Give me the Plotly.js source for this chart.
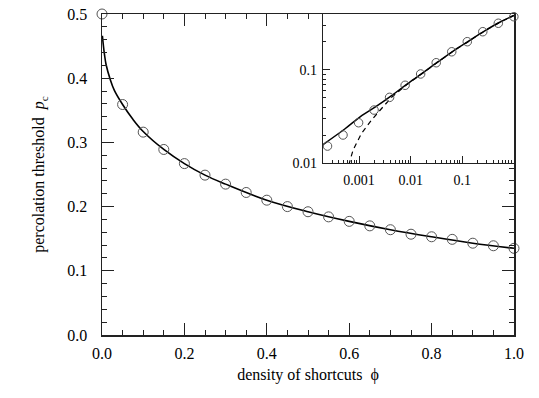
<!DOCTYPE html>
<html>
<head>
<meta charset="utf-8">
<script src="https://cdn.plot.ly/plotly-3.0.1.min.js"></script>
<style>html,body{margin:0;padding:0;background:#fff;}#chart{width:539px;height:398px;}</style>
</head>
<body>
<div id="chart"></div>
<script>
// Main panel: simulation points
const mainPhi = [0, 0.05, 0.1, 0.15, 0.2, 0.25, 0.3, 0.35, 0.4, 0.45, 0.5, 0.55, 0.6, 0.65, 0.7, 0.75, 0.8, 0.85, 0.9, 0.95, 1.0];
const mainPc  = [0.5, 0.359, 0.316, 0.289, 0.267, 0.249, 0.235, 0.222, 0.210, 0.200, 0.192, 0.184, 0.177, 0.170, 0.164, 0.157, 0.153, 0.149, 0.143, 0.139, 0.135];
// Main panel: solid curve
const curvePhi = [0.001, 0.003, 0.006, 0.01, 0.02, 0.03, 0.05, 0.075, 0.1, 0.15, 0.2, 0.25, 0.3, 0.4, 0.5, 0.6, 0.7, 0.8, 0.9, 1.0];
const curvePc  = [0.466, 0.453, 0.437, 0.421, 0.398, 0.381, 0.359, 0.336, 0.317, 0.289, 0.267, 0.249, 0.235, 0.210, 0.192, 0.177, 0.164, 0.153, 0.143, 0.135];
// Inset: points (log-log)
const insetPhi = [0.000244, 0.000488, 0.000977, 0.00195, 0.0039, 0.0078, 0.0156, 0.03125, 0.0625, 0.125, 0.25, 0.5, 1];
const insetVal = [0.0152, 0.0200, 0.0271, 0.0371, 0.0508, 0.0685, 0.0906, 0.1197, 0.157, 0.2015, 0.258, 0.318, 0.374];
// Inset: solid curve
const insetSolidPhi = [0.0002, 0.000527, 0.00106, 0.00211, 0.00426, 0.00834, 0.01687, 0.0335, 0.0668, 0.1346, 0.268, 0.532, 1.0];
const insetSolidVal = [0.0158, 0.0232, 0.0315, 0.0403, 0.0530, 0.0701, 0.0923, 0.122, 0.160, 0.205, 0.262, 0.326, 0.386];
// Inset: dashed curve
const insetDashPhi = [0.00063, 0.000764, 0.00111, 0.00174, 0.00293, 0.00426, 0.00834, 0.01687, 0.0335, 0.0668, 0.1346, 0.268, 0.532, 1.0];
const insetDashVal = [0.0095, 0.0138, 0.0208, 0.0290, 0.0403, 0.0508, 0.0695, 0.0920, 0.1215, 0.1595, 0.2045, 0.2615, 0.3255, 0.386];

const FONT = 'Liberation Serif, Times New Roman, serif';
const AX = '#222';

const traces = [
  {x: curvePhi, y: curvePc, type: 'scatter', mode: 'lines', line: {color: '#000', width: 1.6, shape: 'spline'}, xaxis: 'x', yaxis: 'y', hoverinfo: 'skip'},
  {x: mainPhi, y: mainPc, type: 'scatter', mode: 'markers', cliponaxis: false,
   marker: {symbol: 'circle-open', size: 10, color: '#555', line: {width: 1, color: '#555'}}, xaxis: 'x', yaxis: 'y'},
  {x: insetDashPhi, y: insetDashVal, type: 'scatter', mode: 'lines', line: {color: '#000', width: 1.2, dash: '5px,4px'}, xaxis: 'x2', yaxis: 'y2'},
  {x: insetSolidPhi, y: insetSolidVal, type: 'scatter', mode: 'lines', line: {color: '#000', width: 1.5, shape: 'spline'}, xaxis: 'x2', yaxis: 'y2'},
  {x: insetPhi, y: insetVal, type: 'scatter', mode: 'markers', cliponaxis: false,
   marker: {symbol: 'circle-open', size: 8.5, color: '#555', line: {width: 1, color: '#555'}}, xaxis: 'x2', yaxis: 'y2'}
];

const layout = {
  width: 539, height: 398,
  margin: {l: 102, r: 25, t: 14, b: 63},
  paper_bgcolor: '#fff', plot_bgcolor: '#fff',
  showlegend: false,
  font: {family: FONT, color: '#000', size: 16},
  xaxis: {
    domain: [0, 1], range: [0, 1], anchor: 'y',
    showgrid: false, zeroline: false,
    showline: true, linecolor: AX, linewidth: 1.5, mirror: 'ticks',
    ticks: 'inside', ticklen: 12, tickwidth: 1.3, tickcolor: AX,
    dtick: 0.2, tick0: 0, tickformat: '.1f',
    minor: {ticks: 'inside', dtick: 0.05, ticklen: 5, tickwidth: 1, tickcolor: AX, showgrid: false},
    tickfont: {family: FONT, size: 16},
    ticklabelstandoff: 3,
    title: {text: 'density of shortcuts  ϕ', font: {family: FONT, size: 16}, standoff: 8}
  },
  yaxis: {
    domain: [0, 1], range: [0, 0.5], anchor: 'x',
    showgrid: false, zeroline: false,
    showline: true, linecolor: AX, linewidth: 1.5, mirror: 'ticks',
    ticks: 'inside', ticklen: 12, tickwidth: 1.3, tickcolor: AX,
    dtick: 0.1, tick0: 0, tickformat: '.1f',
    minor: {ticks: 'inside', dtick: 0.02, ticklen: 5, tickwidth: 1, tickcolor: AX, showgrid: false},
    tickfont: {family: FONT, size: 16},
    ticklabelstandoff: 10,
    title: {text: 'percolation threshold  <i>p</i><sub>c</sub>', font: {family: FONT, size: 16}, standoff: 18}
  },
  xaxis2: {
    domain: [0.5364, 1], type: 'log', range: [-3.7, 0.003], anchor: 'y2',
    showgrid: false, zeroline: false,
    showline: true, linecolor: AX, linewidth: 1.3,
    ticks: 'inside', ticklen: 7, tickwidth: 1, tickcolor: AX,
    tickvals: [0.001, 0.01, 0.1], ticktext: ['0.001', '0.01', '0.1'],
    minor: {ticks: 'inside', dtick: 'D1', ticklen: 3.5, tickwidth: 1, tickcolor: AX, showgrid: false},
    tickfont: {family: FONT, size: 14},
    ticklabelstandoff: 4
  },
  yaxis2: {
    domain: [0.5358, 1], type: 'log', range: [-2, -0.398], anchor: 'x2',
    showgrid: false, zeroline: false,
    showline: true, linecolor: AX, linewidth: 1.3,
    ticks: 'inside', ticklen: 7, tickwidth: 1, tickcolor: AX,
    tickvals: [0.01, 0.1], ticktext: ['0.01', '0.1'],
    minor: {ticks: 'inside', dtick: 'D1', ticklen: 3.5, tickwidth: 1, tickcolor: AX, showgrid: false},
    tickfont: {family: FONT, size: 14},
    ticklabelstandoff: 2
  }
};

Plotly.newPlot('chart', traces, layout, {staticPlot: true, displayModeBar: false});
</script>
</body>
</html>
